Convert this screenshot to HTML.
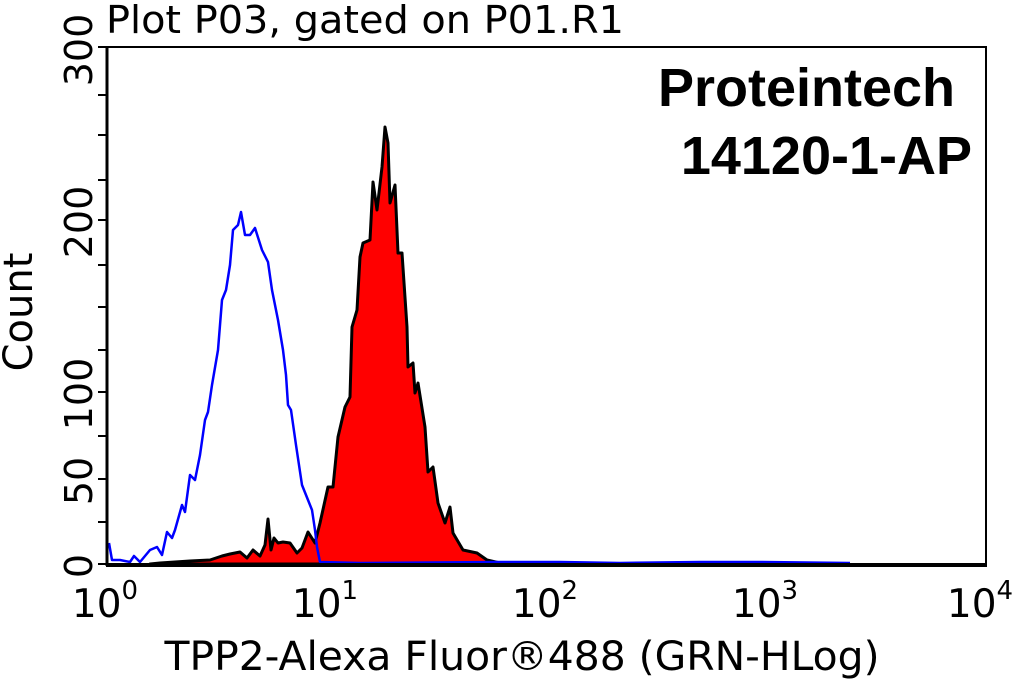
<!DOCTYPE html>
<html><head><style>body{margin:0;background:#fff}svg{display:block}</style></head><body>
<svg width="1015" height="682" xmlns="http://www.w3.org/2000/svg" font-family="'DejaVu Sans','Liberation Sans',sans-serif">
<rect width="1015" height="682" fill="#fff"/>
<text x="106" y="33" font-size="38" textLength="518" lengthAdjust="spacingAndGlyphs">Plot P03, gated on P01.R1</text>
<polygon fill="#ff0000" stroke="#000" stroke-width="3" stroke-linejoin="round" points="150,564 160,563 190,561 210,560 222,556 230,554 240,552 247,558 253,550 260,556 265,545 268,519 271,550 274,538 278,543 283,542 290,543 297,553 302,548 308,532 315,543 320,523 328,487 333,487 338,437 345,407 350,397 352,327 357,310 360,257 363,243 370,240 373,182 377,210 382,167 385,127 388,143 390,203 395,185 398,253 402,253 407,327 408,367 413,363 415,393 418,383 425,427 428,472 433,467 438,503 445,523 450,507 453,533 463,550 477,553 487,560 500,563 500,564"/>
<polyline fill="none" stroke="#0000ff" stroke-width="2.5" stroke-linejoin="round" points="109,543 112,560 120,560 130,562 134,556 140,562 150,550 157,547 162,555 167,532 172,538 175,530 182,505 185,512 190,475 195,480 200,455 205,420 208,412 212,385 218,350 222,300 226,290 230,265 233,230 238,225 241,212 245,235 250,235 255,228 262,250 268,262 272,290 278,320 283,350 286,375 288,405 291,410 296,445 302,485 308,500 312,510 315,530 317,547 320,562 360,563 500,562 560,562 620,563 700,562 760,562 850,563"/>
<polyline fill="none" stroke="#000" stroke-width="2" points="107,47 986,47 986,564"/>
<line x1="107" y1="46" x2="107" y2="566" stroke="#000" stroke-width="3"/>
<line x1="106" y1="565" x2="987" y2="565" stroke="#000" stroke-width="4"/>
<g stroke="#000" stroke-width="2">
<line x1="98" y1="47" x2="107" y2="47"/><line x1="98" y1="95" x2="107" y2="95"/><line x1="98" y1="135" x2="107" y2="135"/><line x1="98" y1="180" x2="107" y2="180"/><line x1="98" y1="220" x2="107" y2="220"/><line x1="98" y1="265" x2="107" y2="265"/><line x1="98" y1="307" x2="107" y2="307"/><line x1="98" y1="350" x2="107" y2="350"/><line x1="98" y1="392" x2="107" y2="392"/><line x1="98" y1="436" x2="107" y2="436"/><line x1="98" y1="479" x2="107" y2="479"/><line x1="98" y1="522" x2="107" y2="522"/><line x1="98" y1="564" x2="107" y2="564"/>
</g>
<g stroke="#000" stroke-width="2" id="xt"></g>
<g font-size="38" text-anchor="middle">
<text transform="translate(92,50) rotate(-90)">300</text>
<text transform="translate(92,222) rotate(-90)">200</text>
<text transform="translate(92,394) rotate(-90)">100</text>
<text transform="translate(92,481) rotate(-90)">50</text>
<text transform="translate(92,566) rotate(-90)">0</text>
<text transform="translate(32,312) rotate(-90)" font-size="40">Count</text>
</g>
<g font-size="39" text-anchor="middle">
<text x="105" y="617">10<tspan font-size="26" dy="-18">0</tspan></text>
<text x="325" y="617">10<tspan font-size="26" dy="-18">1</tspan></text>
<text x="545" y="617">10<tspan font-size="26" dy="-18">2</tspan></text>
<text x="765" y="617">10<tspan font-size="26" dy="-18">3</tspan></text>
<text x="980" y="617">10<tspan font-size="26" dy="-18">4</tspan></text>
<text x="522" y="670" font-size="40" textLength="715" lengthAdjust="spacingAndGlyphs">TPP2-Alexa Fluor®488 (GRN-HLog)</text>
</g>
<g font-family="'Liberation Sans',sans-serif" font-weight="bold" font-size="54" text-anchor="end">
<text x="955" y="106">Proteintech</text>
<text x="972" y="174">14120-1-AP</text>
</g>
<script>
var g=document.getElementById('xt'),s='';
for(var d=0;d<4;d++){for(var k=1;k<=10;k++){var x=109+219*(d+Math.log10(k));var L=(k==1||k==10)?14:7;s+='<line x1="'+x+'" y1="565" x2="'+x+'" y2="'+(565+L)+'"/>';}}
g.innerHTML=s;
</script>
</svg>
</body></html>
